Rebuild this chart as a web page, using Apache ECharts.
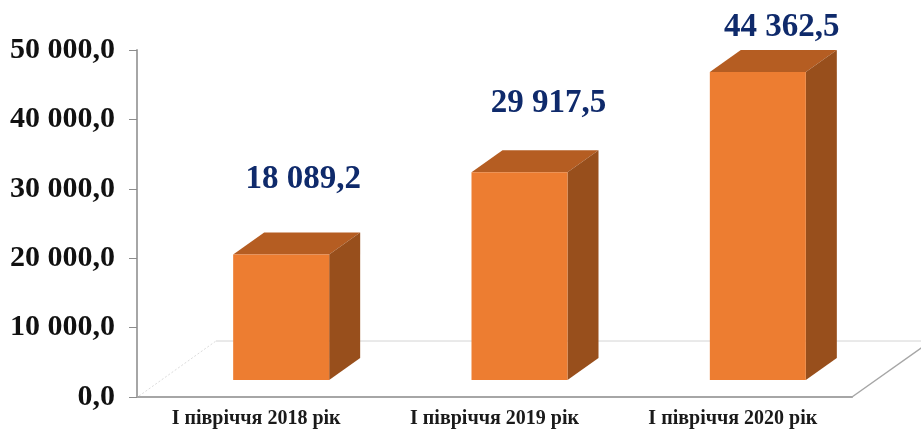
<!DOCTYPE html>
<html>
<head>
<meta charset="utf-8">
<style>html,body{margin:0;padding:0;background:#fff}#chart{width:921px;height:430px}</style>
<script src="https://cdn.jsdelivr.net/npm/echarts@6/dist/echarts.min.js"></script>
</head>
<body>
<div id="chart"></div>
<script>
const categories = ['І півріччя 2018 рік', 'І півріччя 2019 рік', 'І півріччя 2020 рік'];
const values = [18089.2, 29917.5, 44362.5];
const valueLabels = ['18 089,2', '29 917,5', '44 362,5'];

// 3d look, all in px
const depthX = 31, depthY = 22;
const baseLift = 17, barShift = 25, barWidth = 96;
const floorX = 79, floorY = 56;
const labelShift = [[22, -53], [29, -47], [24, -23]];

function fmtTick(v) {
  const s = String(v).replace(/\B(?=(\d{3})+$)/g, ' ');
  return s + ',0';
}

function renderFloor(params, api) {
  const o = api.coord([0, 0]);
  const left = params.coordSys.x;
  const right = left + params.coordSys.width;
  const y0 = o[1];
  const line = (x1, y1, x2, y2, stroke, w, dash) => ({
    type: 'line',
    shape: { x1, y1, x2, y2 },
    style: { stroke, lineWidth: w, lineDash: dash || null }
  });
  return {
    type: 'group',
    children: [
      line(left + 2, y0 - 1, left + floorX, y0 - floorY, '#dcdcdc', 1, [2, 2]),
      line(left + floorX, y0 - floorY, right + floorX, y0 - floorY, '#d4d4d4', 1),
      line(right, y0, right + floorX, y0 - floorY, '#a6a6a6', 1.5)
    ]
  };
}

function renderBar(params, api) {
  const i = api.value(0);
  const top = api.coord([i, api.value(1)]);
  const base = api.coord([i, 0]);
  const x = top[0] + barShift - barWidth / 2;
  const yTop = top[1] - baseLift;
  const yBot = base[1] - baseLift;
  const x2 = x + barWidth;
  return {
    type: 'group',
    children: [
      { type: 'polygon', shape: { points: [[x, yTop], [x + depthX, yTop - depthY], [x2 + depthX, yTop - depthY], [x2, yTop]] }, style: { fill: '#b55d22' } },
      { type: 'polygon', shape: { points: [[x2, yTop], [x2 + depthX, yTop - depthY], [x2 + depthX, yBot - depthY], [x2, yBot]] }, style: { fill: '#984f1c' } },
      { type: 'rect', shape: { x: x, y: yTop, width: barWidth, height: yBot - yTop }, style: { fill: '#ed7d31' } },
      {
        type: 'text',
        x: x + barWidth / 2 + labelShift[i][0],
        y: yTop - depthY + labelShift[i][1],
        style: {
          text: valueLabels[i],
          fill: '#0f2a6b',
          font: 'bold 33px "Liberation Serif"',
          align: 'center',
          verticalAlign: 'middle'
        }
      }
    ]
  };
}

const chart = echarts.init(document.getElementById('chart'), null, { renderer: 'canvas' });
chart.setOption({
  animation: false,
  backgroundColor: '#fff',
  grid: { left: 137, top: 50, width: 715, height: 347 },
  xAxis: {
    type: 'category',
    data: categories,
    axisLine: { lineStyle: { color: '#a6a6a6', width: 2 } },
    axisTick: { length: 7, lineStyle: { color: '#8c8c8c' } },
    axisLabel: { color: '#1a1a1a', fontFamily: 'Liberation Serif', fontWeight: 'bold', fontSize: 20, margin: 12 }
  },
  yAxis: {
    type: 'value',
    min: 0,
    max: 50000,
    interval: 10000,
    splitLine: { show: false },
    axisLine: { show: true, lineStyle: { color: '#a6a6a6', width: 2 } },
    axisTick: { show: true, length: 8, lineStyle: { color: '#8c8c8c' } },
    axisLabel: { color: '#111', fontFamily: 'Liberation Serif', fontWeight: 'bold', fontSize: 30, margin: 22, padding: [3, 0, 0, 0], formatter: fmtTick }
  },
  series: [
    { type: 'custom', silent: true, z: 1, data: [[0, 0]], clip: false, renderItem: renderFloor },
    {
      type: 'custom',
      z: 2,
      clip: false,
      data: values.map((v, i) => [i, v]),
      encode: { x: 0, y: 1 },
      renderItem: renderBar
    }
  ]
});
</script>
</body>
</html>
